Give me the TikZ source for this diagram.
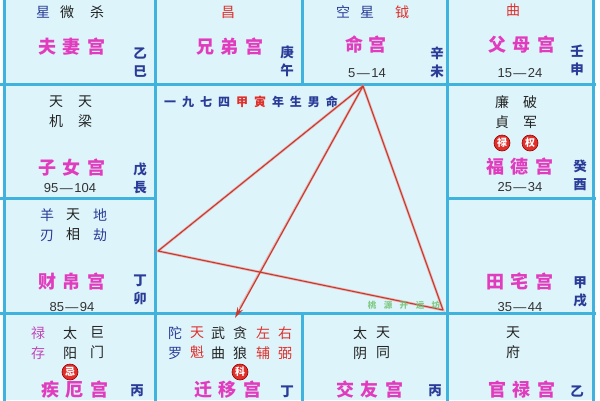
\documentclass[tikz,border=0pt]{standalone}
\usepackage{fontspec}
\newfontfamily\cjk{Noto Sans CJK SC}
\newfontfamily\agefont{Liberation Sans}
\usetikzlibrary{arrows.meta}
\definecolor{cellbg}{HTML}{DDF4FA}
\definecolor{gridc}{HTML}{3FB3DD}
\definecolor{palc}{HTML}{E23CBE}
\definecolor{navyc}{HTML}{2B3C98}
\definecolor{redc}{HTML}{E0302C}
\definecolor{blk}{HTML}{222222}
\definecolor{agec}{HTML}{333333}
\definecolor{linec}{HTML}{C8382E}
\definecolor{haloc}{HTML}{EE8A80}
\definecolor{wmc}{HTML}{6CC06C}
\definecolor{purc}{HTML}{C048B8}
\newcommand\pk{\kern7pt}
\newcommand\ad{\kern1.5pt—\kern1.5pt}
\begin{document}
\begin{tikzpicture}[x=1pt,y=-1pt,
 palace/.style={font=\cjk\bfseries\fontsize{18}{18}\selectfont, text=palc, inner sep=0pt},
 star/.style={font=\cjk\fontsize{14}{20}\selectfont, text=blk, align=center, inner sep=0pt},
 gz/.style={font=\cjk\bfseries\fontsize{13.5}{18}\selectfont, text=navyc, align=center, inner sep=0pt},
 age/.style={font=\agefont\fontsize{13}{13}\selectfont, text=agec, inner sep=0pt},
 circ/.style={circle, fill=redc, draw=red!60!black, line width=0.6pt, minimum size=16pt, inner sep=0pt, text=white, font=\cjk\bfseries\fontsize{10}{10}\selectfont},
 gridline/.style={draw=gridc, line width=3pt},
 halo/.style={draw=haloc, line width=2.6pt, opacity=0.55},
 triline/.style={draw=linec, line width=1.1pt}]
\useasboundingbox (0,0) rectangle (600,400);
\clip (0,0) rectangle (600,400);
\fill[white] (0,0) rectangle (600,400);
\fill[cellbg] (4,0) rectangle (593,400);
% grid
\draw[gridline] (4,-5) -- (4,405);
\draw[gridline] (155,-5) -- (155,405);
\draw[gridline] (447,-5) -- (447,405);
\draw[gridline] (593,-5) -- (593,405);
\draw[gridline] (302,-5) -- (302,84);
\draw[gridline] (302,313) -- (302,405);
\draw[gridline] (0,84) -- (596,84);
\draw[gridline] (0,313) -- (596,313);
\draw[gridline] (0,198) -- (155,198);
\draw[gridline] (447,198) -- (596,198);
% triangle
\coordinate (apex) at (363,86);
\coordinate (lv) at (158,251);
\coordinate (rv) at (443,310);
\coordinate (tip) at (235,318);
\coordinate (tipb) at (240,308);
\draw[halo] (apex) -- (lv) -- (rv) -- cycle;
\draw[halo] (apex) -- (tipb);
\draw[triline, line join=round] (apex) -- (lv) -- (rv) -- cycle;
\draw[triline, -{Stealth[length=11pt,width=6pt]}] (apex) -- (tip);
% center title
\node[font=\cjk\bfseries\fontsize{12}{12}\selectfont, text=navyc, inner sep=0pt] (title) at (251,102)
 {一\kern6pt 九\kern6pt 七\kern6pt 四\kern6pt {\color{redc}甲\kern6pt 寅}\kern6pt 年\kern6pt 生\kern6pt 男\kern6pt 命};
\node[font=\cjk\bfseries\fontsize{8.5}{8.5}\selectfont, text=wmc, opacity=0.8, inner sep=0pt] (wm) at (404,305)
 {桃\kern7.5pt 源\kern7.5pt 开\kern7.5pt 运\kern7.5pt 坊};
% top row
\node[star, text=navyc] (s1) at (43,12) {星};
\node[star] (s2) at (67,12) {微};
\node[star] (s3) at (97,12) {杀};
\node[palace] (p1) at (72,47) {夫\pk 妻\pk 宫};
\node[gz] (g1) at (140,63) {乙\\巳};
\node[star, text=redc] (s4) at (228,12) {昌};
\node[palace] (p2) at (230,47) {兄\pk 弟\pk 宫};
\node[gz] (g2) at (287,61) {庚\\午};
\node[star, text=navyc] (s5) at (343,12) {空};
\node[star, text=navyc] (s6) at (367,12) {星};
\node[star, text=redc] (s7) at (402,12) {钺};
\node[palace] (p3) at (366,45) {命\kern6pt 宫};
\node[age] (a3) at (367,73) {5\ad 14};
\node[gz] (g3) at (437,62) {辛\\未};
\node[star, text=redc] (s8) at (513,10) {曲};
\node[palace] (p4) at (522,45) {父\pk 母\pk 宫};
\node[age] (a4) at (520,73) {15\ad 24};
\node[gz] (g4) at (577,60) {壬\\申};
% left column
\node[star] (s9) at (56,112) {天\\机};
\node[star] (s10) at (85,112) {天\\梁};
\node[palace] (p5) at (72,168) {子\pk 女\pk 宫};
\node[age] (a5) at (70,188) {95\ad 104};
\node[gz] (g5) at (140,178) {戊\\長};
\node[star, text=navyc] (s11) at (47,225) {羊\\刃};
\node[star] (s12) at (73,225) {天\\相};
\node[star, text=navyc] (s13) at (100,225) {地\\劫};
\node[palace] (p6) at (72,282) {财\pk 帛\pk 宫};
\node[age] (a6) at (72,307) {85\ad 94};
\node[gz] (g6) at (140,290) {丁\\卯};
% right column
\node[star] (s14) at (502,112) {廉\\貞};
\node[star] (s15) at (530,112) {破\\军};
\node[circ] (c1) at (502,143) {禄};
\node[circ] (c2) at (530,143) {权};
\node[palace] (p7) at (520,167) {福\pk 德\pk 宫};
\node[age] (a7) at (520,187) {25\ad 34};
\node[gz] (g7) at (580,175) {癸\\酉};
\node[palace] (p8) at (520,282) {田\pk 宅\pk 宫};
\node[age] (a8) at (520,307) {35\ad 44};
\node[gz] (g8) at (580,292) {甲\\戌};
% bottom row
\node[star, text=purc] (s16) at (38,343) {禄\\存};
\node[star] (s17) at (70,343) {太\\阳};
\node[star] (s18) at (97,343) {巨\\门};
\node[circ] (c3) at (70,372) {忌};
\node[palace] (p9) at (75,390) {疾\pk 厄\pk 宫};
\node[gz] (g9) at (137,391) {丙};
\node[star, text=navyc] (s19) at (175,343) {陀\\罗};
\node[star, text=redc] (s20) at (197,343) {天\\魁};
\node[star] (s21) at (218,343) {武\\曲};
\node[star] (s22) at (240,343) {贪\\狼};
\node[star, text=redc] (s23) at (263,343) {左\\辅};
\node[star, text=redc] (s24) at (285,343) {右\\弼};
\node[circ] (c4) at (240,372) {科};
\node[palace] (p10) at (228,390) {迁\pk 移\pk 宫};
\node[gz] (g10) at (287,392) {丁};
\node[star] (s25) at (360,343) {太\\阴};
\node[star] (s26) at (383,343) {天\\同};
\node[palace] (p11) at (370,390) {交\pk 友\pk 宫};
\node[gz] (g11) at (435,391) {丙};
\node[star] (s27) at (513,343) {天\\府};
\node[palace] (p12) at (522,390) {官\pk 禄\pk 宫};
\node[gz] (g12) at (577,391) {乙};
\end{tikzpicture}
\end{document}
